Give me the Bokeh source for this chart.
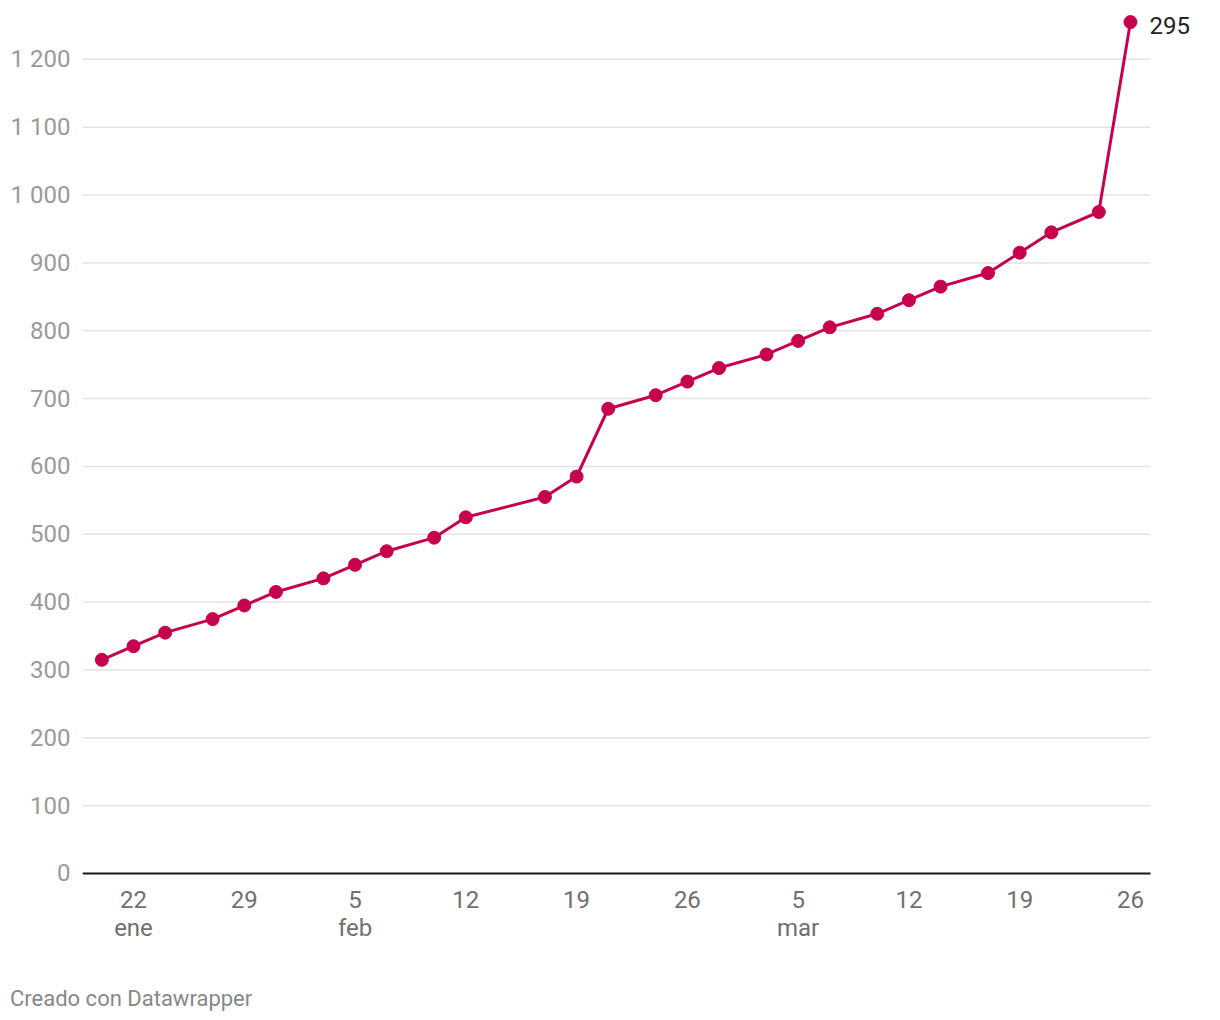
from datetime import date
from bokeh.plotting import figure
from bokeh.models import Range1d, FixedTicker, Div, ColumnDataSource
from bokeh.layouts import column
from bokeh.core.properties import value
from bokeh.embed import file_html
from bokeh.resources import INLINE

# ---- data ----
dates = ["01-20", "01-22", "01-24", "01-27", "01-29", "01-31", "02-03", "02-05",
         "02-07", "02-10", "02-12", "02-17", "02-19", "02-21", "02-24", "02-26",
         "02-28", "03-03", "03-05", "03-07", "03-10", "03-12", "03-14", "03-17",
         "03-19", "03-21", "03-24", "03-26"]
values = [315, 335, 355, 375, 395, 415, 435, 455, 475, 495, 525, 555, 585, 685,
          705, 725, 745, 765, 785, 805, 825, 845, 865, 885, 915, 945, 975, 1255]
x_tick_dates = ["01-22", "01-29", "02-05", "02-12", "02-19", "02-26", "03-05",
                "03-12", "03-19", "03-26"]
x_tick_labels = ["22\nene", "29", "5\nfeb", "12", "19", "26", "5\nmar", "12", "19", "26"]
y_ticks = [0, 100, 200, 300, 400, 500, 600, 700, 800, 900, 1000, 1100, 1200]
y_tick_labels = ["0", "100", "200", "300", "400", "500", "600", "700", "800", "900",
                 "1 000", "1 100", "1 200"]
end_label = "295"

COLOR = "#c6024e"
FONT = "Roboto"
X_START, GRID_END, X_END = 18.777, 86.27, 90.69


def doy(s):
    m, d = s.split("-")
    return date(2021, int(m), int(d)).timetuple().tm_yday


xs = [doy(s) for s in dates]
src = ColumnDataSource(dict(x=xs, y=values))

p = figure(width=1220, height=975, output_backend="svg", toolbar_location=None,
           x_range=Range1d(X_START, X_END), y_range=Range1d(-2.95, 1272),
           min_border_left=82, min_border_right=0, min_border_top=10,
           min_border_bottom=100)
p.outline_line_color = None
p.background_fill_color = "white"
p.border_fill_color = "white"
p.grid.visible = False

# horizontal gridlines (ending at the plot's right edge, leaving room for the label)
gy = y_ticks[1:]
p.segment(x0=[X_START] * len(gy), x1=[GRID_END] * len(gy), y0=gy, y1=gy,
          line_color="#e3e3e3", line_width=1.5)
# baseline
p.segment(x0=[X_START], x1=[GRID_END], y0=[0], y1=[0], line_color="#1a1a1a", line_width=2)

p.yaxis.ticker = FixedTicker(ticks=y_ticks)
p.yaxis.major_label_overrides = {t: l for t, l in zip(y_ticks, y_tick_labels)}
p.yaxis.axis_line_color = None
p.yaxis.major_tick_line_color = None
p.yaxis.major_tick_out = 0
p.yaxis.major_tick_in = 0
p.yaxis.minor_tick_line_color = None
p.yaxis.major_label_standoff = 12
p.yaxis.major_label_text_font = FONT
p.yaxis.major_label_text_font_size = "24px"
p.yaxis.major_label_text_color = "#9a9a9a"

xt = [doy(s) for s in x_tick_dates]
p.xaxis.ticker = FixedTicker(ticks=xt)
p.xaxis.major_label_overrides = {t: l for t, l in zip(xt, x_tick_labels)}
p.xaxis.axis_line_color = None
p.xaxis.major_tick_line_color = None
p.xaxis.major_tick_out = 0
p.xaxis.major_tick_in = 0
p.xaxis.minor_tick_line_color = None
p.xaxis.major_label_standoff = 10
p.xaxis.major_label_text_font = FONT
p.xaxis.major_label_text_font_size = "24px"
p.xaxis.major_label_text_color = "#707070"
p.xaxis.major_label_text_line_height = 1.0

p.line("x", "y", source=src, line_color=COLOR, line_width=3)
p.scatter("x", "y", source=src, size=13, fill_color=COLOR, line_color=COLOR)
p.text(x=[xs[-1]], y=[values[-1]], text=[end_label], x_offset=19, y_offset=3,
       text_font=value(FONT), text_font_size="24px", text_color="#222222",
       text_align="left", text_baseline="middle")

footer = Div(text="Creado con Datawrapper", width=400, height=30,
             margin=(8, 0, 0, 10),
             styles={"font-family": "Roboto", "font-size": "22px", "color": "#888888"})

layout = column(p, footer, spacing=0)
open("out.html", "w").write(file_html(layout, INLINE))
